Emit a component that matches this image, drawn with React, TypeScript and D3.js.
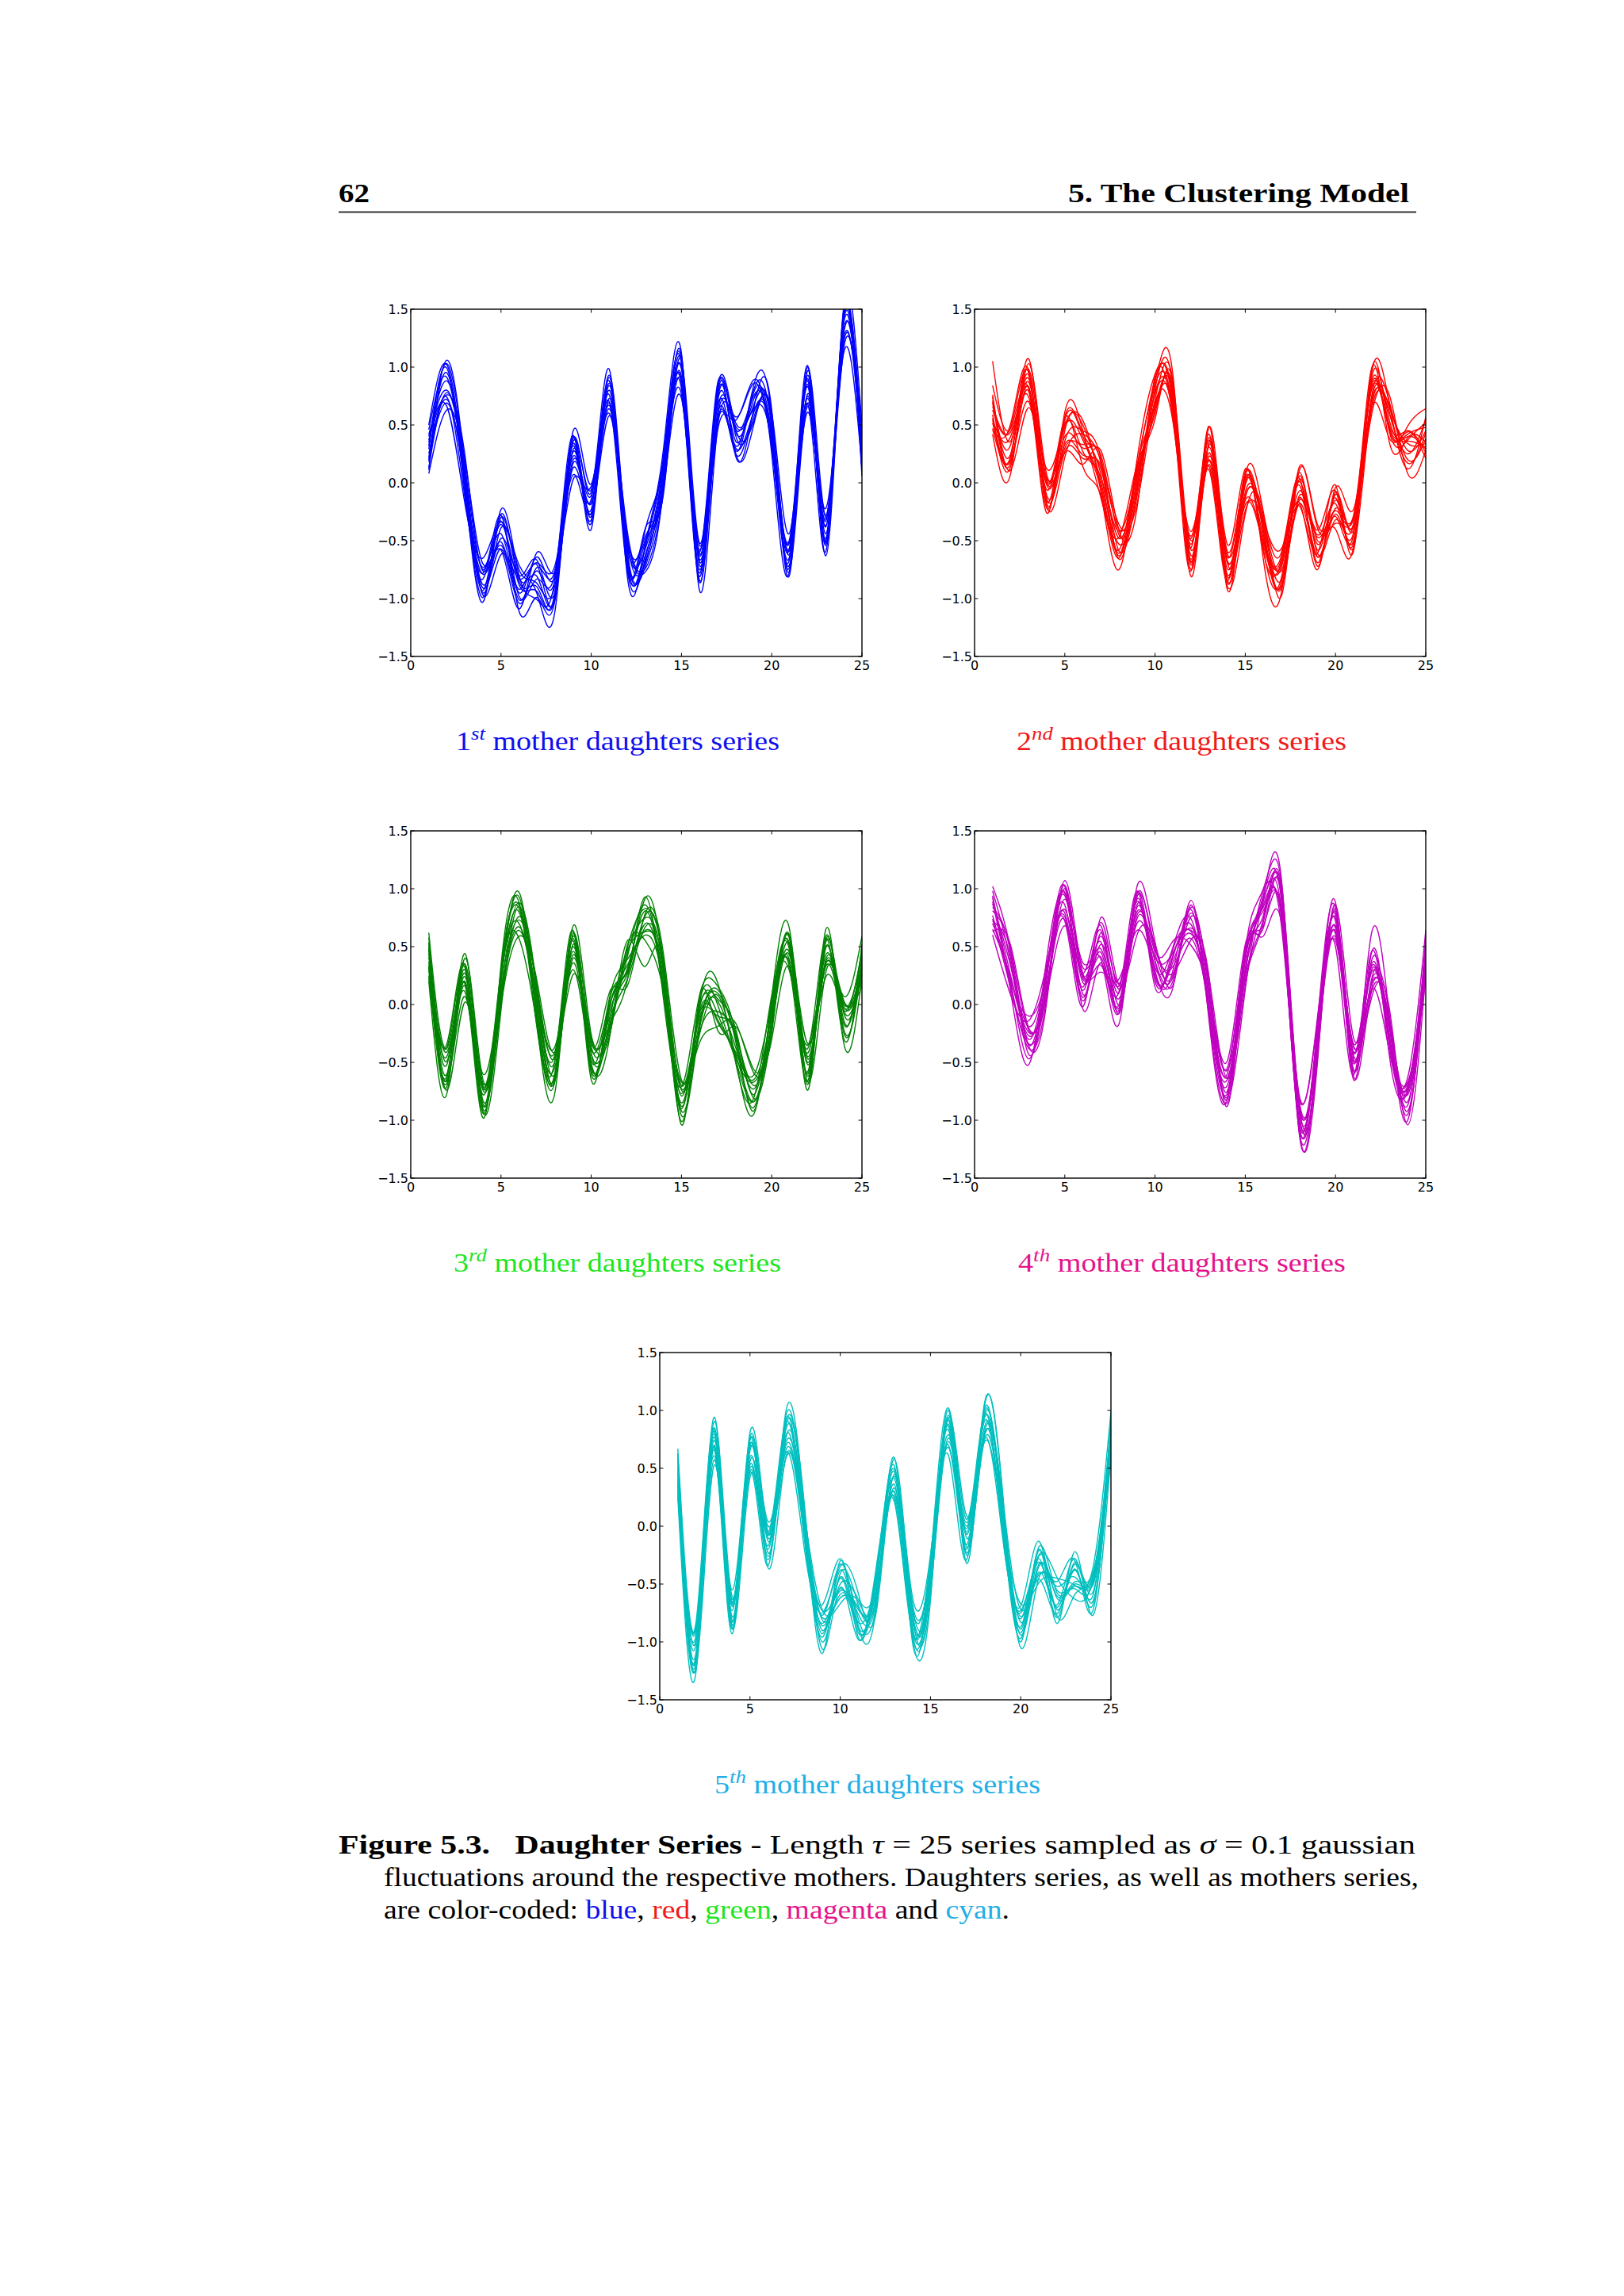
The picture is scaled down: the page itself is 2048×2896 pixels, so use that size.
import React from 'react';
import * as d3 from 'd3';

const sampleTimes = [1, 2, 3, 4, 5, 6, 7, 8, 9, 10, 11, 12, 13, 14, 15, 16, 17, 18, 19, 20, 21, 22, 23, 24, 25];
const xTickValues = [0, 5, 10, 15, 20, 25];
const yTickValues = [-1.5, -1.0, -0.5, 0.0, 0.5, 1.0, 1.5];

const blueSeries = [
  [0.40, 0.80, 0.10, -0.95, -0.39, -0.75, -0.87, -0.88, 0.13, -0.14, 0.88, -0.66, -0.51, -0.04, 1.00, -0.71, 0.57, 0.49, 0.67, 0.52, -0.72, 0.93, -0.44, 1.41, 0.16],
  [0.20, 0.95, -0.01, -0.79, -0.54, -0.92, -0.71, -1.01, 0.29, -0.27, 0.73, -0.50, -0.69, 0.13, 0.89, -0.58, 0.67, 0.28, 0.78, 0.41, -0.51, 0.73, -0.37, 1.22, 0.28],
  [0.32, 0.99, -0.09, -0.83, -0.33, -0.98, -0.83, -0.77, 0.32, -0.32, 0.80, -0.71, -0.55, 0.21, 0.85, -0.78, 0.77, 0.41, 0.56, 0.55, -0.61, 0.75, -0.33, 1.39, 0.19],
  [0.13, 0.78, 0.07, -0.88, -0.48, -0.80, -0.67, -0.94, 0.17, -0.17, 0.67, -0.56, -0.46, 0.03, 1.04, -0.84, 0.61, 0.46, 0.75, 0.36, -0.65, 0.90, -0.54, 1.42, 0.37],
  [0.35, 0.88, 0.15, -0.76, -0.51, -1.01, -0.76, -0.83, 0.36, -0.06, 0.76, -0.75, -0.65, 0.18, 1.07, -0.68, 0.54, 0.32, 0.80, 0.47, -0.70, 0.77, -0.28, 1.25, 0.23],
  [0.25, 0.72, -0.04, -0.99, -0.30, -0.85, -0.90, -0.98, 0.27, -0.23, 0.93, -0.58, -0.72, 0.01, 0.92, -0.63, 0.72, 0.52, 0.64, 0.33, -0.56, 0.83, -0.50, 1.47, 0.33],
  [0.46, 0.91, 0.04, -0.73, -0.44, -0.95, -0.64, -0.80, 0.20, -0.11, 0.69, -0.53, -0.57, 0.15, 0.81, -0.81, 0.70, 0.36, 0.84, 0.58, -0.76, 0.69, -0.38, 1.30, 0.40],
  [0.18, 0.74, -0.13, -0.78, -0.36, -0.88, -0.94, -0.93, 0.40, -0.29, 0.84, -0.63, -0.68, 0.08, 0.98, -0.61, 0.59, 0.25, 0.61, 0.43, -0.48, 0.88, -0.48, 1.50, 0.11],
  [0.29, 1.03, 0.12, -0.91, -0.57, -1.04, -0.73, -0.75, 0.23, -0.18, 0.64, -0.48, -0.49, 0.23, 1.03, -0.75, 0.80, 0.44, 0.72, 0.50, -0.58, 0.66, -0.31, 1.33, 0.30],
  [0.22, 0.69, 0.00, -0.93, -0.27, -0.82, -0.81, -0.96, 0.34, -0.35, 0.86, -0.69, -0.62, -0.02, 0.87, -0.66, 0.52, 0.30, 0.61, 0.38, -0.63, 0.85, -0.52, 1.45, 0.14],
  [0.50, 1.02, -0.02, -1.03, -0.23, -0.80, -1.01, -0.82, 0.41, -0.40, 0.91, -0.68, -0.40, 0.14, 0.76, -0.60, 0.86, 0.23, 0.64, 0.63, -0.79, 1.00, -0.51, 1.54, 0.49],
  [0.08, 0.63, 0.20, -0.70, -0.58, -1.09, -0.60, -0.76, 0.03, -0.03, 0.60, -0.46, -0.77, -0.03, 1.10, -0.93, 0.48, 0.57, 0.86, 0.30, -0.50, 0.61, -0.22, 1.13, 0.13],
  [0.42, 0.66, -0.18, -0.65, -0.34, -0.71, -0.96, -1.10, 0.38, -0.08, 0.98, -0.81, -0.53, 0.29, 1.12, -0.86, 0.75, 0.26, 0.50, 0.61, -0.43, 0.68, -0.59, 1.49, 0.06],
  [0.11, 1.06, 0.14, -0.97, -0.62, -0.83, -0.69, -0.71, 0.07, -0.26, 0.58, -0.42, -0.74, -0.07, 0.73, -0.54, 0.45, 0.54, 0.89, 0.25, -0.75, 0.97, -0.30, 1.17, 0.42],
  [0.37, 0.76, 0.24, -0.75, -0.28, -1.11, -0.99, -1.00, 0.45, -0.01, 0.70, -0.76, -0.39, -0.10, 1.06, -0.52, 0.83, 0.47, 0.53, 0.57, -0.55, 1.01, -0.63, 1.44, 0.20],
];

const redSeries = [
  [0.74, 0.25, 0.93, -0.18, 0.45, 0.50, 0.01, -0.53, -0.12, 0.81, 0.82, -0.66, 0.37, -0.86, 0.00, -0.44, -0.86, 0.06, -0.58, -0.13, -0.52, 0.91, 0.53, 0.36, 0.31],
  [0.54, 0.40, 0.82, -0.02, 0.30, 0.33, 0.17, -0.66, 0.04, 0.68, 0.67, -0.50, 0.19, -0.69, -0.11, -0.31, -0.76, -0.15, -0.47, -0.24, -0.31, 0.71, 0.60, 0.17, 0.43],
  [0.66, 0.44, 0.74, -0.06, 0.51, 0.27, 0.05, -0.42, 0.07, 0.63, 0.74, -0.71, 0.33, -0.61, -0.15, -0.51, -0.66, -0.02, -0.69, -0.10, -0.41, 0.73, 0.64, 0.34, 0.34],
  [0.47, 0.23, 0.90, -0.11, 0.36, 0.45, 0.21, -0.59, -0.08, 0.78, 0.61, -0.56, 0.42, -0.79, 0.04, -0.57, -0.82, 0.03, -0.50, -0.29, -0.45, 0.88, 0.43, 0.37, 0.52],
  [0.69, 0.33, 0.98, 0.01, 0.33, 0.24, 0.12, -0.48, 0.11, 0.89, 0.70, -0.75, 0.23, -0.64, 0.07, -0.41, -0.89, -0.11, -0.45, -0.18, -0.50, 0.75, 0.69, 0.20, 0.38],
  [0.59, 0.17, 0.79, -0.22, 0.54, 0.40, -0.02, -0.63, 0.02, 0.72, 0.87, -0.58, 0.16, -0.81, -0.08, -0.36, -0.71, 0.09, -0.61, -0.32, -0.36, 0.81, 0.47, 0.42, 0.48],
  [1.05, 0.36, 0.87, 0.04, 0.40, 0.30, 0.24, -0.45, -0.05, 0.84, 0.63, -0.53, 0.31, -0.67, -0.19, -0.54, -0.73, -0.07, -0.41, -0.07, -0.56, 0.67, 0.59, 0.25, 0.55],
  [0.52, 0.19, 0.70, -0.01, 0.48, 0.37, -0.06, -0.58, 0.15, 0.66, 0.78, -0.63, 0.20, -0.74, -0.02, -0.34, -0.84, -0.18, -0.64, -0.22, -0.28, 0.86, 0.49, 0.45, 0.26],
  [0.63, 0.48, 0.95, -0.14, 0.27, 0.21, 0.15, -0.40, -0.02, 0.77, 0.58, -0.48, 0.39, -0.59, 0.03, -0.48, -0.63, 0.01, -0.53, -0.15, -0.38, 0.64, 0.66, 0.28, 0.45],
  [0.56, 0.14, 0.83, -0.16, 0.57, 0.43, 0.07, -0.61, 0.09, 0.60, 0.80, -0.69, 0.26, -0.84, -0.13, -0.39, -0.91, -0.13, -0.64, -0.27, -0.43, 0.83, 0.45, 0.40, 0.29],
  [0.84, 0.47, 0.81, -0.26, 0.61, 0.45, -0.13, -0.47, 0.16, 0.55, 0.85, -0.68, 0.48, -0.68, -0.24, -0.33, -0.57, -0.20, -0.61, -0.02, -0.59, 0.98, 0.46, 0.49, 0.64],
  [0.42, 0.08, 1.03, 0.07, 0.26, 0.16, 0.28, -0.41, -0.22, 0.92, 0.54, -0.46, 0.11, -0.85, 0.10, -0.66, -0.95, 0.14, -0.39, -0.35, -0.30, 0.59, 0.75, 0.08, 0.28],
  [0.76, 0.11, 0.65, 0.12, 0.50, 0.54, -0.08, -0.75, 0.13, 0.87, 0.92, -0.81, 0.35, -0.53, 0.12, -0.59, -0.68, -0.17, -0.75, -0.04, -0.23, 0.66, 0.38, 0.44, 0.21],
  [0.45, 0.51, 0.97, -0.20, 0.22, 0.42, 0.19, -0.36, -0.18, 0.69, 0.52, -0.42, 0.14, -0.89, -0.27, -0.27, -0.98, 0.11, -0.36, -0.40, -0.55, 0.95, 0.67, 0.12, 0.57],
  [0.71, 0.21, 1.07, 0.02, 0.56, 0.14, -0.11, -0.65, 0.20, 0.94, 0.64, -0.76, 0.49, -0.92, 0.06, -0.25, -0.60, 0.04, -0.72, -0.08, -0.35, 0.99, 0.34, 0.39, 0.35],
];

const greenSeries = [
  [0.52, -0.60, 0.30, -0.90, 0.18, 0.93, -0.07, -0.53, 0.36, -0.39, 0.00, 0.31, 0.81, 0.11, -0.77, -0.11, -0.10, -0.24, -0.78, -0.03, 0.35, -0.42, 0.43, -0.06, 0.26],
  [0.32, -0.45, 0.19, -0.74, 0.03, 0.76, 0.09, -0.66, 0.52, -0.52, -0.15, 0.47, 0.63, 0.28, -0.88, 0.02, 0.00, -0.45, -0.67, -0.14, 0.56, -0.62, 0.50, -0.25, 0.38],
  [0.44, -0.41, 0.11, -0.78, 0.24, 0.70, -0.03, -0.42, 0.55, -0.57, -0.08, 0.26, 0.77, 0.36, -0.92, -0.18, 0.10, -0.32, -0.89, 0.00, 0.46, -0.60, 0.54, -0.08, 0.29],
  [0.25, -0.62, 0.27, -0.83, 0.09, 0.88, 0.13, -0.59, 0.40, -0.42, -0.21, 0.41, 0.86, 0.18, -0.73, -0.24, -0.06, -0.27, -0.70, -0.19, 0.42, -0.45, 0.33, -0.05, 0.47],
  [0.47, -0.52, 0.35, -0.71, 0.06, 0.67, 0.04, -0.48, 0.59, -0.31, -0.12, 0.22, 0.67, 0.33, -0.70, -0.08, -0.13, -0.41, -0.65, -0.08, 0.37, -0.58, 0.59, -0.22, 0.33],
  [0.37, -0.68, 0.16, -0.94, 0.27, 0.83, -0.10, -0.63, 0.50, -0.48, 0.05, 0.39, 0.60, 0.16, -0.85, -0.03, 0.05, -0.21, -0.81, -0.22, 0.51, -0.52, 0.37, 0.00, 0.43],
  [0.58, -0.49, 0.24, -0.68, 0.13, 0.73, 0.16, -0.45, 0.43, -0.36, -0.19, 0.44, 0.75, 0.30, -0.96, -0.21, 0.03, -0.37, -0.61, 0.03, 0.31, -0.66, 0.49, -0.17, 0.50],
  [0.30, -0.66, 0.07, -0.73, 0.21, 0.80, -0.14, -0.58, 0.63, -0.54, -0.04, 0.34, 0.64, 0.23, -0.79, -0.01, -0.08, -0.48, -0.84, -0.12, 0.59, -0.47, 0.39, 0.03, 0.21],
  [0.41, -0.37, 0.32, -0.86, 0.00, 0.64, 0.07, -0.40, 0.46, -0.43, -0.24, 0.49, 0.83, 0.38, -0.74, -0.15, 0.13, -0.29, -0.73, -0.05, 0.49, -0.69, 0.56, -0.14, 0.40],
  [0.34, -0.71, 0.20, -0.88, 0.30, 0.86, -0.01, -0.61, 0.57, -0.60, -0.02, 0.28, 0.70, 0.13, -0.90, -0.06, -0.15, -0.43, -0.84, -0.17, 0.44, -0.50, 0.35, -0.02, 0.24],
  [0.62, -0.38, 0.18, -0.98, 0.34, 0.88, -0.21, -0.47, 0.64, -0.65, 0.03, 0.29, 0.92, 0.29, -1.01, 0.00, 0.19, -0.50, -0.81, 0.08, 0.28, -0.35, 0.36, 0.07, 0.59],
  [0.20, -0.77, 0.40, -0.65, -0.01, 0.59, 0.20, -0.41, 0.26, -0.28, -0.28, 0.51, 0.55, 0.12, -0.67, -0.33, -0.19, -0.16, -0.59, -0.25, 0.57, -0.74, 0.65, -0.34, 0.23],
  [0.54, -0.74, 0.02, -0.60, 0.23, 0.97, -0.16, -0.75, 0.61, -0.33, 0.10, 0.16, 0.79, 0.44, -0.65, -0.26, 0.08, -0.47, -0.95, 0.06, 0.64, -0.67, 0.28, 0.02, 0.16],
  [0.23, -0.34, 0.34, -0.92, -0.05, 0.85, 0.11, -0.36, 0.30, -0.51, -0.30, 0.55, 0.33, 0.38, -1.04, 0.06, -0.22, -0.19, -0.56, -0.30, 0.32, -0.38, 0.57, -0.30, 0.52],
  [0.49, -0.64, 0.44, -0.70, 0.29, 0.57, -0.19, -0.65, 0.68, -0.26, -0.18, 0.21, 0.93, 0.05, -0.71, 0.08, 0.16, -0.26, -0.92, 0.02, 0.52, -0.34, 0.24, -0.03, 0.30],
];

const magentaSeries = [
  [0.92, 0.25, -0.24, 0.10, 0.91, 0.32, 0.48, 0.05, 0.70, 0.41, 0.45, 0.66, 0.11, -0.82, 0.40, 0.81, 0.80, -0.87, -0.33, 0.77, -0.58, 0.38, -0.27, -0.76, 0.31],
  [0.72, 0.40, -0.35, 0.26, 0.76, 0.15, 0.64, -0.08, 0.86, 0.28, 0.30, 0.82, -0.07, -0.65, 0.29, 0.94, 0.90, -1.08, -0.22, 0.66, -0.37, 0.18, -0.20, -0.95, 0.43],
  [0.84, 0.44, -0.43, 0.22, 0.97, 0.09, 0.52, 0.16, 0.89, 0.23, 0.37, 0.61, 0.07, -0.57, 0.25, 0.74, 1.00, -0.95, -0.44, 0.80, -0.47, 0.20, -0.16, -0.78, 0.34],
  [0.65, 0.23, -0.27, 0.17, 0.82, 0.27, 0.68, -0.01, 0.74, 0.38, 0.24, 0.76, 0.16, -0.75, 0.44, 0.68, 0.84, -0.90, -0.25, 0.61, -0.51, 0.35, -0.37, -0.75, 0.52],
  [0.87, 0.33, -0.19, 0.29, 0.79, 0.06, 0.59, 0.10, 0.93, 0.49, 0.33, 0.57, -0.03, -0.60, 0.47, 0.84, 0.77, -1.04, -0.20, 0.72, -0.56, 0.22, -0.11, -0.92, 0.38],
  [0.77, 0.17, -0.38, 0.06, 1.00, 0.22, 0.45, -0.05, 0.84, 0.32, 0.50, 0.74, -0.10, -0.77, 0.32, 0.89, 0.95, -0.84, -0.36, 0.58, -0.42, 0.28, -0.33, -0.70, 0.48],
  [0.98, 0.36, -0.30, 0.32, 0.86, 0.12, 0.71, 0.13, 0.77, 0.44, 0.26, 0.79, 0.05, -0.63, 0.21, 0.71, 0.93, -1.00, -0.16, 0.83, -0.62, 0.14, -0.21, -0.87, 0.55],
  [0.70, 0.19, -0.47, 0.27, 0.94, 0.19, 0.41, 0.00, 0.97, 0.26, 0.41, 0.69, -0.06, -0.70, 0.38, 0.91, 0.82, -1.11, -0.39, 0.68, -0.34, 0.33, -0.31, -0.67, 0.26],
  [0.81, 0.48, -0.22, 0.14, 0.73, 0.03, 0.62, 0.18, 0.80, 0.37, 0.21, 0.84, 0.13, -0.55, 0.43, 0.77, 1.03, -0.92, -0.28, 0.75, -0.44, 0.11, -0.14, -0.84, 0.45],
  [0.74, 0.14, -0.34, 0.12, 1.03, 0.25, 0.54, -0.03, 0.91, 0.20, 0.43, 0.63, 0.00, -0.80, 0.27, 0.86, 0.75, -1.06, -0.39, 0.63, -0.49, 0.30, -0.35, -0.72, 0.29],
  [1.02, 0.47, -0.36, 0.02, 1.07, 0.27, 0.34, 0.11, 0.98, 0.15, 0.48, 0.64, 0.22, -0.64, 0.16, 0.92, 1.09, -1.13, -0.36, 0.88, -0.65, 0.45, -0.34, -0.63, 0.64],
  [0.60, 0.08, -0.14, 0.35, 0.72, -0.02, 0.75, 0.17, 0.60, 0.52, 0.17, 0.86, -0.15, -0.81, 0.50, 0.59, 0.71, -0.79, -0.14, 0.55, -0.36, 0.06, -0.05, -1.04, 0.28],
  [0.94, 0.11, -0.52, 0.40, 0.96, 0.36, 0.39, -0.17, 0.95, 0.47, 0.55, 0.51, 0.09, -0.49, 0.52, 0.66, 0.98, -1.10, -0.50, 0.86, -0.29, 0.13, -0.42, -0.68, 0.21],
  [0.63, 0.51, -0.20, 0.08, 0.68, 0.24, 0.28, 0.22, 0.64, 0.29, 0.15, 0.90, -0.12, -0.85, 0.13, 0.98, 0.68, -0.82, -0.11, 0.50, -0.61, 0.62, -0.13, -1.00, 0.57],
  [0.89, 0.21, -0.10, 0.30, 1.02, -0.04, 0.36, -0.07, 1.02, 0.54, 0.27, 0.56, 0.23, -0.88, 0.46, 1.00, 1.06, -0.89, -0.47, 0.82, -0.41, 0.46, -0.46, -0.73, 0.35],
];

const cyanSeries = [
  [0.57, -1.10, 0.80, -0.85, 0.65, 0.00, 0.73, 0.04, -1.00, -0.41, -0.68, -0.59, 0.47, -0.94, -0.37, 0.83, -0.20, 0.99, 0.07, -0.78, -0.42, -0.52, -0.44, -0.49, 0.66],
  [0.37, -0.95, 0.69, -0.69, 0.50, -0.17, 0.89, -0.09, -0.84, -0.54, -0.83, -0.43, 0.29, -0.77, -0.48, 0.96, -0.10, 0.78, 0.18, -0.89, -0.21, -0.72, -0.37, -0.68, 0.78],
  [0.49, -0.91, 0.61, -0.73, 0.71, -0.23, 0.77, 0.15, -0.81, -0.59, -0.76, -0.64, 0.43, -0.69, -0.52, 0.76, 0.00, 0.91, -0.04, -0.75, -0.31, -0.70, -0.33, -0.51, 0.69],
  [0.30, -1.12, 0.77, -0.78, 0.56, -0.05, 0.93, -0.02, -0.96, -0.44, -0.89, -0.49, 0.52, -0.87, -0.33, 0.70, -0.16, 0.96, 0.15, -0.94, -0.35, -0.55, -0.54, -0.48, 0.87],
  [0.52, -1.02, 0.85, -0.66, 0.53, -0.26, 0.84, 0.09, -0.77, -0.33, -0.80, -0.68, 0.33, -0.72, -0.30, 0.86, -0.23, 0.82, 0.20, -0.83, -0.40, -0.68, -0.28, -0.65, 0.73],
  [0.42, -1.18, 0.66, -0.89, 0.74, -0.10, 0.70, -0.06, -0.86, -0.50, -0.63, -0.51, 0.26, -0.89, -0.45, 0.91, -0.05, 1.02, 0.04, -0.97, -0.26, -0.62, -0.50, -0.43, 0.83],
  [0.63, -0.99, 0.74, -0.63, 0.60, -0.20, 0.96, 0.12, -0.93, -0.38, -0.87, -0.46, 0.41, -0.75, -0.56, 0.73, -0.07, 0.86, 0.24, -0.72, -0.46, -0.76, -0.38, -0.60, 0.90],
  [0.35, -1.16, 0.57, -0.68, 0.68, -0.13, 0.66, -0.01, -0.73, -0.56, -0.72, -0.56, 0.30, -0.82, -0.39, 0.93, -0.18, 0.75, 0.01, -0.87, -0.18, -0.57, -0.48, -0.40, 0.61],
  [0.46, -0.87, 0.82, -0.81, 0.47, -0.29, 0.87, 0.17, -0.90, -0.45, -0.92, -0.41, 0.49, -0.67, -0.34, 0.79, 0.03, 0.94, 0.12, -0.80, -0.28, -0.79, -0.31, -0.57, 0.80],
  [0.39, -1.21, 0.70, -0.83, 0.77, -0.07, 0.79, -0.04, -0.79, -0.62, -0.70, -0.62, 0.36, -0.92, -0.50, 0.88, -0.25, 0.80, 0.01, -0.92, -0.33, -0.60, -0.52, -0.45, 0.64],
  [0.67, -0.88, 0.68, -0.93, 0.81, -0.05, 0.59, 0.10, -0.72, -0.67, -0.65, -0.61, 0.58, -0.76, -0.61, 0.94, 0.09, 0.73, 0.04, -0.67, -0.49, -0.45, -0.51, -0.36, 0.99],
  [0.25, -1.27, 0.90, -0.60, 0.46, -0.34, 1.00, 0.16, -1.10, -0.30, -0.96, -0.39, 0.21, -0.93, -0.27, 0.61, -0.29, 1.07, 0.26, -1.00, -0.20, -0.84, -0.22, -0.77, 0.63],
  [0.59, -1.24, 0.52, -0.55, 0.70, 0.04, 0.64, -0.18, -0.75, -0.35, -0.58, -0.74, 0.45, -0.61, -0.25, 0.68, -0.02, 0.76, -0.10, -0.69, -0.13, -0.77, -0.59, -0.41, 0.56],
  [0.28, -0.84, 0.84, -0.87, 0.42, -0.08, 0.91, 0.21, -1.06, -0.53, -0.98, -0.35, 0.24, -0.97, -0.64, 1.00, -0.32, 1.04, 0.29, -1.05, -0.45, -0.48, -0.30, -0.73, 0.92],
  [0.62, -1.14, 0.94, -0.65, 0.76, -0.36, 0.61, -0.08, -0.68, -0.28, -0.86, -0.69, 0.59, -1.00, -0.31, 1.02, 0.06, 0.97, -0.07, -0.73, -0.25, -0.44, -0.63, -0.46, 0.70],
];

const titleOrdinals = ['1', '2', '3', '4', '5'];
const titleSuffixes = ['st', 'nd', 'rd', 'th', 'th'];
const titleRest = ' mother daughters series';

const SERIF = '"Liberation Serif", "Times New Roman", Times, serif';
const SANS = '"DejaVu Sans", sans-serif';

const PW = 569;
const PH = 438;

function fmtY(v: number) {
  const s = Math.abs(v).toFixed(1);
  return v < 0 ? '\u2212' + s : s;
}

function Panel({ id, left, top, series, color }: { id: string; left: number; top: number; series: number[][]; color: string }) {
  const x = d3.scaleLinear().domain([0, 25]).range([left, left + PW]);
  const y = d3.scaleLinear().domain([-1.5, 1.5]).range([top + PH, top]);
  const line = d3
    .line<number>()
    .x((_d, i) => x(sampleTimes[i]))
    .y((d) => y(d))
    .curve(d3.curveNatural);
  const tl = 4.5;
  return (
    <g>
      <defs>
        <clipPath id={id}>
          <rect x={left} y={top} width={PW} height={PH} />
        </clipPath>
      </defs>
      <g clipPath={`url(#${id})`}>
        {series.map((s, k) => (
          <path key={k} d={line(s) || ''} fill="none" stroke={color} strokeWidth={1.4} strokeLinejoin="round" />
        ))}
      </g>
      {xTickValues.map((v) => (
        <g key={'x' + v}>
          <line x1={x(v)} x2={x(v)} y1={top + PH} y2={top + PH - tl} stroke="#000" strokeWidth={1} />
          <line x1={x(v)} x2={x(v)} y1={top} y2={top + tl} stroke="#000" strokeWidth={1} />
          <text x={x(v)} y={top + PH + 17} textAnchor="middle" fontFamily={SANS} fontSize={16} fill="#000">
            {String(v)}
          </text>
        </g>
      ))}
      {yTickValues.map((v) => (
        <g key={'y' + v}>
          <line x1={left} x2={left + tl} y1={y(v)} y2={y(v)} stroke="#000" strokeWidth={1} />
          <line x1={left + PW} x2={left + PW - tl} y1={y(v)} y2={y(v)} stroke="#000" strokeWidth={1} />
          <text x={left - 3} y={y(v) + 6} textAnchor="end" fontFamily={SANS} fontSize={16} fill="#000">
            {fmtY(v)}
          </text>
        </g>
      ))}
      <rect x={left} y={top} width={PW} height={PH} fill="none" stroke="#000" strokeWidth={1.4} />
    </g>
  );
}

function Title({ idx, x, y, width, color }: { idx: number; x: number; y: number; width: number; color: string }) {
  return (
    <text
      x={x}
      y={y}
      fontFamily={SERIF}
      fontSize={34}
      fill={color}
      textLength={width}
      lengthAdjust="spacingAndGlyphs"
      style={{ whiteSpace: 'pre' }}
    >
      <tspan>{titleOrdinals[idx]}</tspan>
      <tspan fontSize={24} fontStyle="italic" dy={-13}>
        {titleSuffixes[idx]}
      </tspan>
      <tspan dy={13}>{titleRest}</tspan>
    </text>
  );
}

export default function App() {
  const panels = [
    { id: 'c1', left: 518, top: 390, series: blueSeries, color: '#0000ff' },
    { id: 'c2', left: 1229, top: 390, series: redSeries, color: '#ff0000' },
    { id: 'c3', left: 518, top: 1048, series: greenSeries, color: '#008000' },
    { id: 'c4', left: 1229, top: 1048, series: magentaSeries, color: '#bf00bf' },
    { id: 'c5', left: 832, top: 1706, series: cyanSeries, color: '#00bfbf' },
  ];
  const titles = [
    { x: 575, y: 946, w: 408, color: '#1010ee' },
    { x: 1282, y: 946, w: 416, color: '#f01a1a' },
    { x: 572, y: 1604, w: 413, color: '#1ee61e' },
    { x: 1284, y: 1604, w: 413, color: '#e4148c' },
    { x: 901, y: 2262, w: 411, color: '#22aee6' },
  ];
  return (
    <svg
      width={2048}
      height={2896}
      viewBox="0 0 2048 2896"
      style={{ position: 'absolute', left: 0, top: 0, background: '#fff' }}
    >
      <rect x={0} y={0} width={2048} height={2896} fill="#fff" />
      <text x={427} y={255} fontFamily={SERIF} fontWeight="bold" fontSize={34} fill="#000" textLength={39} lengthAdjust="spacingAndGlyphs">
        62
      </text>
      <text x={1347} y={255} fontFamily={SERIF} fontWeight="bold" fontSize={34} fill="#000" textLength={430} lengthAdjust="spacingAndGlyphs">
        5. The Clustering Model
      </text>
      <line x1={427} x2={1786} y1={267.5} y2={267.5} stroke="#333" strokeWidth={1.8} />

      {panels.map((p) => (
        <Panel key={p.id} {...p} />
      ))}
      {titles.map((t, i) => (
        <Title key={i} idx={i} x={t.x} y={t.y} width={t.w} color={t.color} />
      ))}

      <text x={427} y={2338} fontFamily={SERIF} fontSize={34} fill="#000" textLength={1358} lengthAdjust="spacingAndGlyphs" style={{ whiteSpace: 'pre' }}>
        <tspan fontWeight="bold">Figure 5.3.</tspan>
        <tspan>{'   '}</tspan>
        <tspan fontWeight="bold">Daughter Series</tspan>
        <tspan>{' - Length '}</tspan>
        <tspan fontStyle="italic">τ</tspan>
        <tspan>{' = 25 series sampled as '}</tspan>
        <tspan fontStyle="italic">σ</tspan>
        <tspan>{' = 0.1 gaussian'}</tspan>
      </text>
      <text x={484} y={2379} fontFamily={SERIF} fontSize={34} fill="#000" textLength={1305} lengthAdjust="spacingAndGlyphs">
        fluctuations around the respective mothers. Daughters series, as well as mothers series,
      </text>
      <text x={484} y={2420} fontFamily={SERIF} fontSize={34} fill="#000" textLength={789} lengthAdjust="spacingAndGlyphs" style={{ whiteSpace: 'pre' }}>
        <tspan>{'are color-coded: '}</tspan>
        <tspan fill="#1010ee">blue</tspan>
        <tspan>{', '}</tspan>
        <tspan fill="#f01a1a">red</tspan>
        <tspan>{', '}</tspan>
        <tspan fill="#1ee61e">green</tspan>
        <tspan>{', '}</tspan>
        <tspan fill="#e4148c">magenta</tspan>
        <tspan>{' and '}</tspan>
        <tspan fill="#22aee6">cyan</tspan>
        <tspan>.</tspan>
      </text>
    </svg>
  );
}
